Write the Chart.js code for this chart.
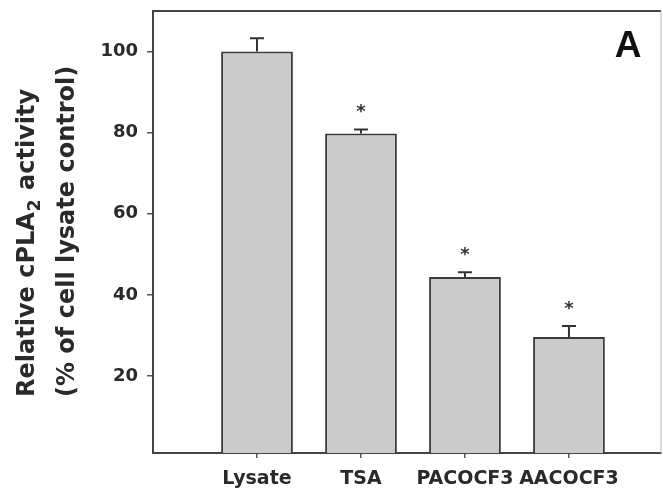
<!DOCTYPE html>
<html>
<head>
<meta charset="utf-8">
<script src="https://cdn.jsdelivr.net/npm/chart.js@4"></script>
<style>
  html, body { margin: 0; padding: 0; background: #fff; overflow: hidden; }
  #wrap { width: 663px; height: 494px; }
</style>
</head>
<body>
<div id="wrap"><canvas id="chart" width="663" height="494"></canvas></div>
<script>
const categories = ["Lysate", "TSA", "PACOCF3", "AACOCF3"];
const activity = [100, 79.8, 44.4, 29.6];
const errors = [3.3, 1.0, 1.2, 2.7];
const marks = ["", "*", "*", "*"];
const yTicks = [20, 40, 60, 80, 100];

const ink = "#2a2a2a";

// error bars, stars, frame, panel letter and y title
const extras = {
  id: "extras",
  afterDatasetsDraw(chart) {
    const { ctx, chartArea, scales } = chart;
    const xs = scales.x, ys = scales.y;
    ctx.save();
    ctx.strokeStyle = "#333";
    ctx.lineWidth = 2;
    categories.forEach((c, i) => {
      const x = xs.getPixelForValue(i + 1);
      const top = ys.getPixelForValue(activity[i]);
      const cap = ys.getPixelForValue(activity[i] + errors[i]);
      ctx.beginPath();
      ctx.moveTo(x, top);
      ctx.lineTo(x, cap);
      ctx.moveTo(x - 7, cap);
      ctx.lineTo(x + 7, cap);
      ctx.stroke();
      if (marks[i]) {
        ctx.fillStyle = "#333";
        ctx.font = "bold 18px 'DejaVu Sans'";
        ctx.textAlign = "center";
        ctx.textBaseline = "middle";
        ctx.fillText(marks[i], x, cap - 17);
      }
    });
    // frame top and right
    ctx.beginPath();
    ctx.strokeStyle = "#444";
    ctx.moveTo(chartArea.left, chartArea.top);
    ctx.lineTo(chartArea.right, chartArea.top);
    ctx.stroke();
    ctx.beginPath();
    ctx.strokeStyle = "#bbb";
    ctx.lineWidth = 1;
    ctx.moveTo(chartArea.right, chartArea.top);
    ctx.lineTo(chartArea.right, chartArea.bottom);
    ctx.stroke();

    // panel letter
    ctx.fillStyle = "#111";
    ctx.font = "bold 37px 'Liberation Sans'";
    ctx.textAlign = "center";
    ctx.textBaseline = "alphabetic";
    ctx.fillText("A", 628, 57);

    // y title, two rotated lines
    ctx.fillStyle = ink;
    ctx.translate(34, 397);
    ctx.rotate(-Math.PI / 2);
    ctx.textAlign = "left";
    ctx.font = "bold 24px 'DejaVu Sans'";
    let w = 0;
    const a = "Relative cPLA";
    ctx.fillText(a, 0, 0);
    w = ctx.measureText(a).width;
    ctx.font = "bold 17px 'DejaVu Sans'";
    ctx.fillText("2", w + 1, 6);
    w += ctx.measureText("2").width + 2;
    ctx.font = "bold 24px 'DejaVu Sans'";
    ctx.fillText(" activity", w, 0);
    ctx.fillText("(% of cell lysate control)", 0, 40);
    ctx.restore();
  }
};

new Chart(document.getElementById("chart"), {
  type: "bar",
  data: {
    datasets: [{
      data: categories.map((c, i) => ({ x: i + 1, y: activity[i] })),
      backgroundColor: "#cbcbcb",
      borderColor: "#3a3a3a",
      borderWidth: 2,
      categoryPercentage: 1,
      barPercentage: 0.69
    }]
  },
  options: {
    responsive: false,
    animation: false,
    events: [],
    layout: { padding: { top: 11, right: 2, left: 0, bottom: 0 } },
    plugins: { legend: { display: false }, tooltip: { enabled: false } },
    scales: {
      x: {
        type: "linear",
        min: 0,
        max: 4.885,
        offset: false,
        afterBuildTicks: (s) => { s.ticks = categories.map((c, i) => ({ value: i + 1 })); },
        afterFit: (s) => { s.height = 41; s.paddingLeft = 0; s.paddingRight = 0; },
        ticks: {
          callback: (v, i) => categories[i],
          color: ink,
          font: { family: "'DejaVu Sans'", size: 19, weight: "bold" },
          padding: 10,
          maxRotation: 0,
          autoSkip: false
        },
        grid: { display: true, offset: false, drawOnChartArea: false, tickLength: 5, color: "#555", lineWidth: 1.5 },
        border: { display: true, color: "#444", width: 2 }
      },
      y: {
        min: 1,
        max: 110,
        afterBuildTicks: (s) => { s.ticks = yTicks.map(v => ({ value: v })); },
        afterFit: (s) => { s.width = 153; s.paddingTop = 0; s.paddingBottom = 0; },
        ticks: {
          color: ink,
          font: { family: "'DejaVu Sans'", size: 18, weight: "bold" },
          padding: 9
        },
        grid: { display: true, drawOnChartArea: false, tickLength: 6, color: "#555", lineWidth: 1.5 },
        border: { display: true, color: "#444", width: 2 }
      }
    }
  },
  plugins: [extras]
});
</script>
</body>
</html>
